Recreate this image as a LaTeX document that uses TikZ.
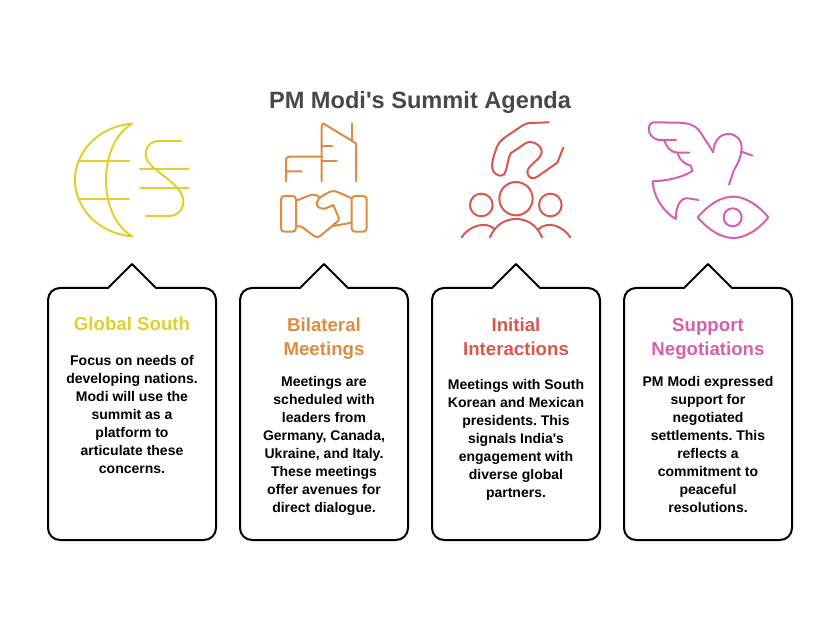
\documentclass[tikz,border=0pt]{standalone}
\usepackage{fontspec}
\setmainfont{Liberation Sans}[Ligatures=TeXOff]
\frenchspacing
\definecolor{cyellow}{HTML}{E3CF2C}
\definecolor{corange}{HTML}{DF8C42}
\definecolor{cred}{HTML}{D9574F}
\definecolor{cpink}{HTML}{D85FAE}
\definecolor{ctitle}{HTML}{484848}
\tikzset{
	heading/.style={font=\bfseries\fontsize{14}{18}\selectfont,align=center,anchor=center},
	bodytext/.style={font=\bfseries\fontsize{10.5}{13.5}\selectfont,align=center,anchor=center,text=black},
	icon/.style={line width=1.5pt,line join=round,line cap=round,x=0.25pt,y=-0.25pt},
	card/.style={line width=1.5pt,line join=round,line cap=round,draw=black}
}
\begin{document}
\begin{tikzpicture}[x=0.75pt,y=-0.75pt,line join=round]
	\useasboundingbox (0,0) rectangle (840,624);
	\node[font=\bfseries\fontsize{17.7}{22}\selectfont,text=ctitle] (title) at (420,102.5) {PM Modi's Summit Agenda};
	% cards
	\foreach \xa in {48,240,432,624}{
		\draw[card,rounded corners=9pt] (\xa+108,288) -- (\xa+168,288) -- (\xa+168,540) -- (\xa,540) -- (\xa,288) -- (\xa+60,288);
		\draw[card] (\xa+60,288) -- (\xa+84,264) -- (\xa+108,288);
	}
	% globe and coin
	\begin{scope}[shift={(60,110)},icon,draw=cyellow]
		\draw (217,41) .. controls (110,50) and (45,130) .. (45,210) .. controls (45,290) and (110,370) .. (217,379);
		\draw (217,41) .. controls (165,70) and (138,140) .. (138,210) .. controls (138,280) and (165,350) .. (217,379);
		\draw (55,153) -- (207,153) (55,266) -- (207,266);
		\draw (363,93) -- (300,93) .. controls (270,93) and (257,110) .. (257,135) .. controls (257,180) and (370,215) .. (370,275) .. controls (370,300) and (350,318) .. (330,318) -- (257,318);
		\draw (240,176) -- (386,176) (240,235) -- (386,235);
	\end{scope}
	% buildings and handshake
	\begin{scope}[shift={(60,110)},icon,draw=corange]
		\draw (785,214) -- (785,50) .. controls (785,42) and (790,38) .. (796,44) -- (888,100) -- (888,214);
		\draw (875,41) -- (875,90) (785,107) -- (817,107) (785,154) -- (830,154);
		\draw (678,214) -- (678,150) .. controls (678,143) and (682,140) .. (690,140) -- (785,140) (678,184) -- (725,184);
		\draw[rounded corners=2.5pt] (663,258) rectangle (708,365) (875,258) rectangle (920,365);
		\draw (708,272) -- (755,254) .. controls (765,252) and (772,256) .. (778,262);
		\draw (708,348) -- (725,350) -- (762,378) .. controls (770,383) and (775,383) .. (782,377) -- (835,332) .. controls (838,328) and (838,325) .. (835,320) -- (820,285) -- (795,296) .. controls (780,298) and (768,288) .. (770,278) .. controls (772,268) and (780,262) .. (790,256) -- (810,245) .. controls (820,241) and (825,243) .. (835,247) -- (875,265);
		\draw (875,338) -- (820,348);
	\end{scope}
	% hand over people
	\begin{scope}[shift={(450,110)},icon,draw=cred]
		\draw (297,37) -- (240,39) .. controls (225,40) and (215,48) .. (190,65) .. controls (165,82) and (150,90) .. (142,108) .. controls (135,125) and (125,155) .. (126,172) .. controls (127,190) and (150,205) .. (162,193) .. controls (172,180) and (172,150) .. (182,130) -- (228,99) .. controls (245,90) and (275,105) .. (275,125) .. controls (275,150) and (230,165) .. (232,188) .. controls (235,205) and (250,210) .. (262,200) -- (322,158) -- (340,113);
		\draw (198,266) circle[radius=50] (94,285) circle[radius=34] (301,285) circle[radius=34];
		\draw (120,382) .. controls (135,345) and (165,327) .. (198,327) .. controls (231,327) and (261,345) .. (276,382);
		\draw (35,382) .. controls (55,350) and (105,330) .. (135,358);
		\draw (265,358) .. controls (295,330) and (340,350) .. (361,382);
	\end{scope}
	% dove and eye
	\begin{scope}[shift={(450,110)},icon,draw=cpink]
		\draw (790,127) -- (750,65) .. controls (735,45) and (715,38) .. (680,38) -- (612,37) .. controls (590,38) and (588,80) .. (625,90) -- (678,90);
		\draw (643,92) .. controls (650,112) and (662,127) .. (683,128) -- (718,128);
		\draw (683,130) .. controls (690,152) and (702,160) .. (722,167) -- (728,183) .. controls (690,205) and (650,212) .. (608,214);
		\draw (608,214) .. controls (610,260) and (640,305) .. (677,327) .. controls (678,290) and (690,262) .. (715,265) -- (745,270);
		\draw (790,127) .. controls (790,100) and (805,72) .. (835,72) .. controls (860,72) and (875,90) .. (875,115) .. controls (872,155) and (855,170) .. (850,185) -- (837,224);
		\draw (875,125) -- (907,137);
		\draw (743,322) .. controls (780,280) and (815,260) .. (850,260) .. controls (885,260) and (925,285) .. (955,322) .. controls (925,360) and (885,384) .. (850,384) .. controls (815,384) and (775,360) .. (743,322) -- cycle;
		\draw (848,322) circle[radius=27];
	\end{scope}
	% texts
	\node[heading,text=cyellow] (headsouth) at (132,324) {Global South};
	\node[bodytext] (textsouth) at (132,414) {Focus on needs of\\developing nations.\\Modi will use the\\summit as a\\platform to\\articulate these\\concerns.};
	\node[heading,text=corange] (headmeet) at (324,338.5) {Bilateral\\Meetings};
	\node[bodytext] (textmeet) at (324,445.5) {Meetings are\\scheduled with\\leaders from\\Germany, Canada,\\Ukraine, and Italy.\\These meetings\\offer avenues for\\direct dialogue.};
	\node[heading,text=cred] (headinit) at (516,336.5) {Initial\\Interactions};
	\node[bodytext] (textinit) at (516,439.5) {Meetings with South\\Korean and Mexican\\presidents. This\\signals India's\\engagement with\\diverse global\\partners.};
	\node[heading,text=cpink] (headnego) at (708,338.5) {Support\\Negotiations};
	\node[bodytext] (textnego) at (708,444) {PM Modi expressed\\support for\\negotiated\\settlements. This\\reflects a\\commitment to\\peaceful\\resolutions.};
\end{tikzpicture}
\end{document}
